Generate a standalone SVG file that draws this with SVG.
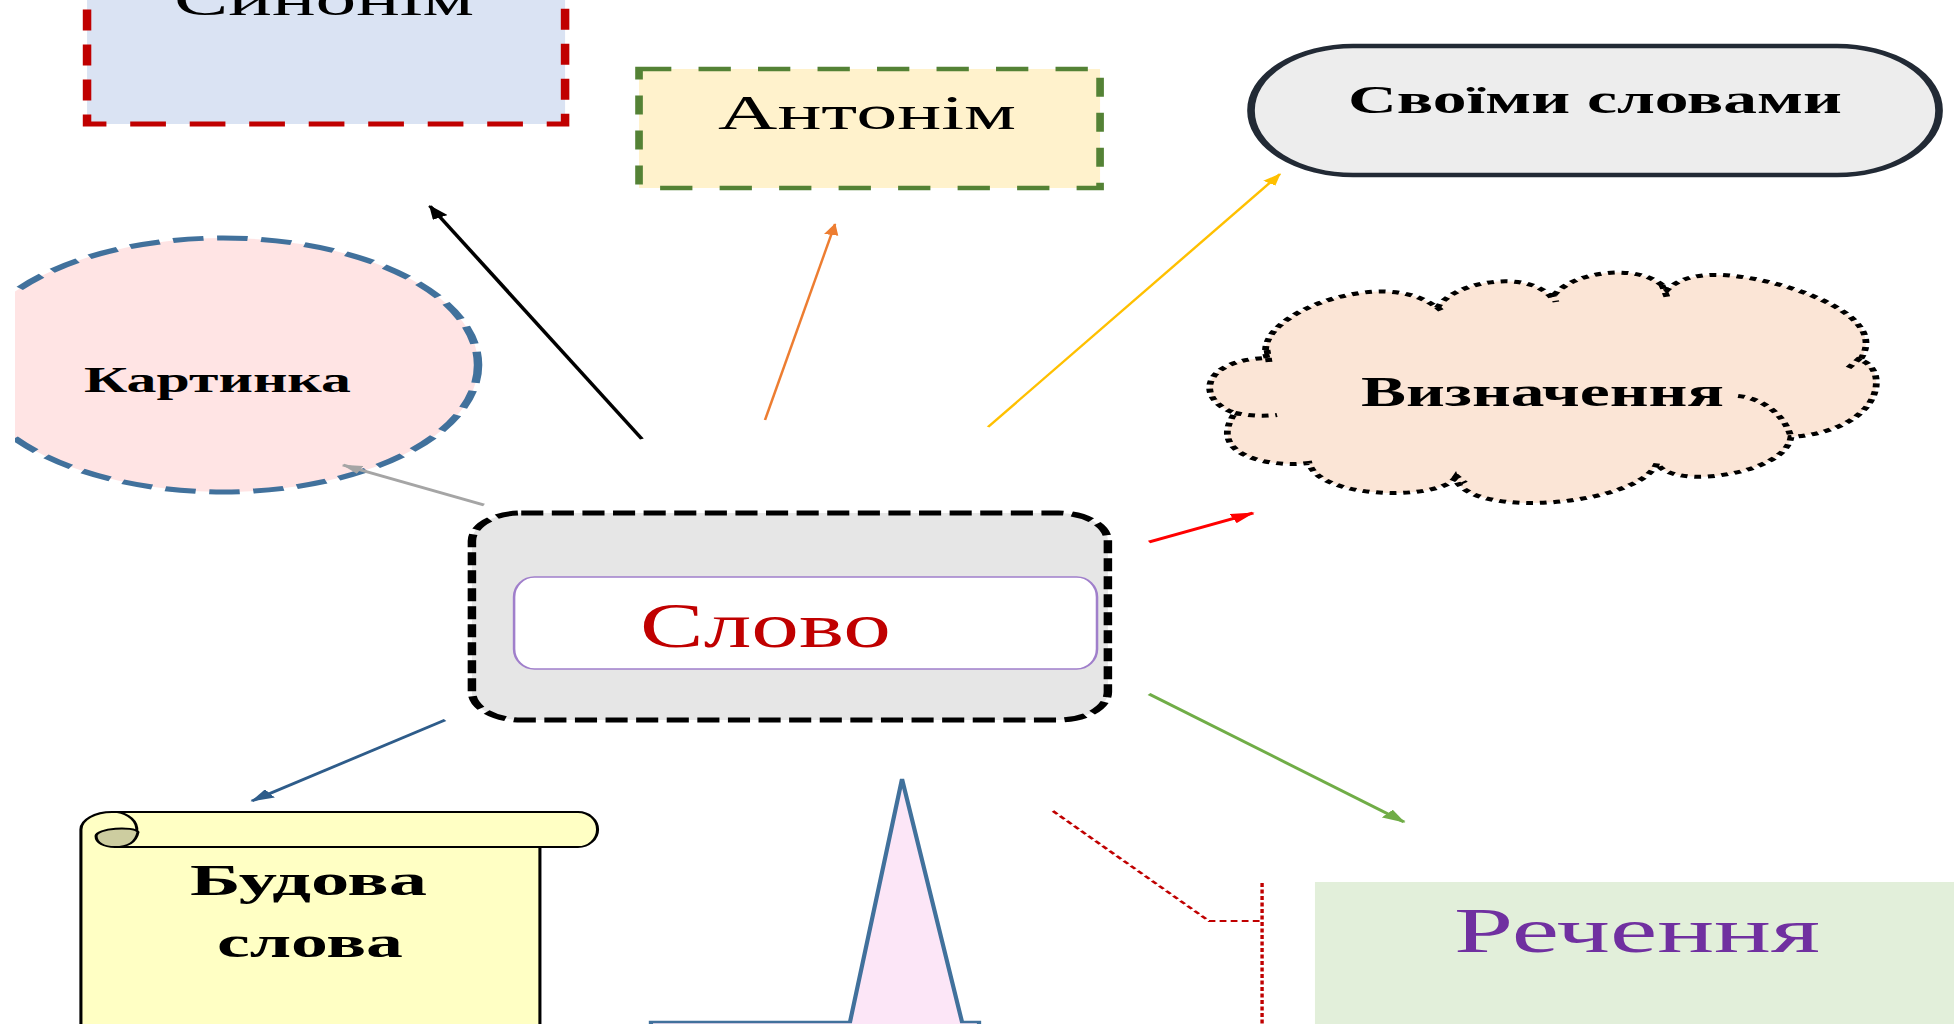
<svg xmlns="http://www.w3.org/2000/svg" width="1954" height="1024" viewBox="0 0 1954 1024">
<style>
.t{font-family:"Liberation Serif","DejaVu Serif",serif;fill:#000}
.b{font-weight:bold}
.ln{fill:none}
</style>
<defs>
<clipPath id="clipL" clipPathUnits="userSpaceOnUse"><rect x="8.8" y="0" width="1200" height="1024"/></clipPath>
<marker id="mBlack" markerUnits="userSpaceOnUse" viewBox="0 0 14 10" markerWidth="14" markerHeight="10" refX="13" refY="5" orient="auto"><path d="M0,0 L14,5 L0,10 Z" fill="#000"/></marker>
<marker id="mOrange" markerUnits="userSpaceOnUse" viewBox="0 0 14 10" markerWidth="12" markerHeight="9" refX="13" refY="5" orient="auto"><path d="M0,0 L14,5 L0,10 Z" fill="#ED7D31"/></marker>
<marker id="mYellow" markerUnits="userSpaceOnUse" viewBox="0 0 14 10" markerWidth="12" markerHeight="9" refX="13" refY="5" orient="auto"><path d="M0,0 L14,5 L0,10 Z" fill="#FFC000"/></marker>
<marker id="mGrey" markerUnits="userSpaceOnUse" viewBox="0 0 14 10" markerWidth="12" markerHeight="9" refX="13" refY="5" orient="auto"><path d="M0,0 L14,5 L0,10 Z" fill="#A5A5A5"/></marker>
<marker id="mRed" markerUnits="userSpaceOnUse" viewBox="0 0 14 10" markerWidth="14" markerHeight="10" refX="13" refY="5" orient="auto"><path d="M0,0 L14,5 L0,10 Z" fill="#FF0000"/></marker>
<marker id="mGreen" markerUnits="userSpaceOnUse" viewBox="0 0 14 10" markerWidth="14" markerHeight="10" refX="13" refY="5" orient="auto"><path d="M0,0 L14,5 L0,10 Z" fill="#70AD47"/></marker>
<marker id="mBlue" markerUnits="userSpaceOnUse" viewBox="0 0 14 10" markerWidth="14" markerHeight="10" refX="13" refY="5" orient="auto"><path d="M0,0 L14,5 L0,10 Z" fill="#2E5C8A"/></marker>
</defs>
<rect x="0" y="0" width="1954" height="1024" fill="#fff"/>
<g transform="scale(1.7,1)">
  <g id="node-synonym">
    <rect x="51.2" y="-60" width="281.2" height="184" fill="#DAE3F3" stroke="#C00000" stroke-width="5" stroke-dasharray="21 14"/>
    <text class="t" x="102.4" y="15" font-size="48" textLength="176.4" lengthAdjust="spacingAndGlyphs">Синонім</text>
  </g>
  <g id="node-antonym">
    <rect x="375.9" y="69" width="271.2" height="119" fill="#FFF2CC" stroke="#548235" stroke-width="4.5" stroke-dasharray="19 16"/>
    <text class="t" x="422.4" y="129" font-size="48" textLength="175.3" lengthAdjust="spacingAndGlyphs">Антонім</text>
  </g>
  <g id="node-own-words">
    <rect x="735.9" y="46" width="404.7" height="129" rx="60" ry="64" fill="#EDEDED" stroke="#222A35" stroke-width="4.5"/>
    <text class="t b" x="792.9" y="113" font-size="40" textLength="290.6" lengthAdjust="spacingAndGlyphs">Своїми словами</text>
  </g>
  <g id="node-picture" clip-path="url(#clipL)">
    <ellipse cx="131.2" cy="365" rx="150" ry="127" fill="#FFE4E4" stroke="#41719C" stroke-width="5" stroke-dasharray="18 8"/>
    <text class="t b" x="49.4" y="392" font-size="36" textLength="157" lengthAdjust="spacingAndGlyphs">Картинка</text>
  </g>
  <g id="node-definition">
    <path d="M745.3,358 C735.3,315 814.7,265 845.3,308 C855.9,280 900,270 912.9,298 C923.5,270 967.6,262 980.6,290 C991.2,272 1011.8,272 1035.3,280 S1111.8,318 1094.1,360 C1111.8,368 1108.8,430 1053.5,437 C1050,475 982.4,490 974.7,463 C964.7,505 864.7,520 855.9,478 C847.1,500 776.5,500 770,463 C747.1,468 708.8,455 726.5,413 C702.9,400 705.9,360 745.3,358 Z" fill="#FBE5D6" stroke="#000" stroke-width="4" stroke-dasharray="4 4"/>
    <path class="ln" d="M1022.4,396 C1036.5,398 1050,415 1053.5,437 M726.5,413 Q738.2,417 751.2,415 M745.3,350 L746.5,362 M845.3,307 L849.5,313 M912.9,293 L915.3,302 M977.6,285 L980.6,297 M1094.1,358 L1085.9,370 M855.9,475 L861.8,483" stroke="#000" stroke-width="4" stroke-dasharray="4 4"/>
    <text class="t b" x="800.6" y="406" font-size="42" textLength="213.5" lengthAdjust="spacingAndGlyphs">Визначення</text>
  </g>
  <g id="node-word">
    <rect x="277.6" y="513" width="374.1" height="207" rx="29" ry="28" fill="#E6E6E6" stroke="#000" stroke-width="5" stroke-dasharray="13 5"/>
    <rect x="302.4" y="577" width="342.9" height="92" rx="12" ry="20" fill="#fff" stroke="#A07FCB" stroke-width="1.5"/>
    <text class="t" x="376.5" y="647" font-size="63" fill="#C00000" style="fill:#C00000" textLength="147.6" lengthAdjust="spacingAndGlyphs">Слово</text>
  </g>
  <g id="node-sentence">
    <rect x="773.5" y="882" width="400" height="160" fill="#E2EFDA"/>
    <text class="t" x="855.3" y="952" font-size="63" style="fill:#7030A0" textLength="215.3" lengthAdjust="spacingAndGlyphs">Речення</text>
  </g>
  <g id="node-structure">
    <path d="M47.6,1040 V829.5 A18.3,17.5 0 0 1 65.9,812 H340 A11.5,17.5 0 0 1 340,847 H317.6 V1040 Z" fill="#FFFFC4" stroke="#000" stroke-width="1.8"/>
    <path class="ln" d="M317.6,847 H67.6" stroke="#000" stroke-width="1.8"/>
    <path class="ln" d="M65.3,812 A14,17.5 0 0 1 67.6,847" stroke="#000" stroke-width="1.8"/>
    <path d="M56.5,836 C56.5,828 78.8,826 81.2,832 C80,842 75.3,847 67.6,847 C61.2,847 56.5,843 56.5,836 Z" fill="#CDCDA0" stroke="#000" stroke-width="1.8"/>
    <text class="t b" x="111.8" y="895" font-size="45" textLength="139.4" lengthAdjust="spacingAndGlyphs">Будова</text>
    <text class="t b" x="127.6" y="957" font-size="45" textLength="109.4" lengthAdjust="spacingAndGlyphs">слова</text>
  </g>
  <g id="node-star">
    <polygon points="382.9,1022 500,1022 530.6,779 565.9,1022 575.9,1022 575.9,1045 382.9,1045" fill="#FCE6F7" stroke="#41719C" stroke-width="2.5" stroke-linejoin="miter"/>
  </g>
  <g id="connectors" fill="none">
    <line x1="377.6" y1="439" x2="252.9" y2="206" stroke="#000" stroke-width="2.5" marker-end="url(#mBlack)"/>
    <line x1="450" y1="420" x2="491.2" y2="224" stroke="#ED7D31" stroke-width="1.5" marker-end="url(#mOrange)"/>
    <line x1="581.2" y1="427" x2="752.9" y2="174" stroke="#FFC000" stroke-width="1.8" marker-end="url(#mYellow)"/>
    <line x1="284.7" y1="505" x2="201.8" y2="465" stroke="#A5A5A5" stroke-width="2.5" marker-end="url(#mGrey)"/>
    <line x1="675.9" y1="542" x2="737.1" y2="513" stroke="#FF0000" stroke-width="3" marker-end="url(#mRed)"/>
    <line x1="675.9" y1="694" x2="825.9" y2="822" stroke="#70AD47" stroke-width="2.5" marker-end="url(#mGreen)"/>
    <line x1="261.8" y1="720" x2="148.2" y2="801" stroke="#2E5C8A" stroke-width="2.5" marker-end="url(#mBlue)"/>
    <polyline points="619.4,811 711.2,921 742.4,921" stroke="#C00000" stroke-width="2" stroke-dasharray="4 2.5"/>
    <line x1="742.4" y1="883" x2="742.4" y2="1040" stroke="#C00000" stroke-width="2" stroke-dasharray="4 2.5"/>
  </g>
</g>
</svg>
